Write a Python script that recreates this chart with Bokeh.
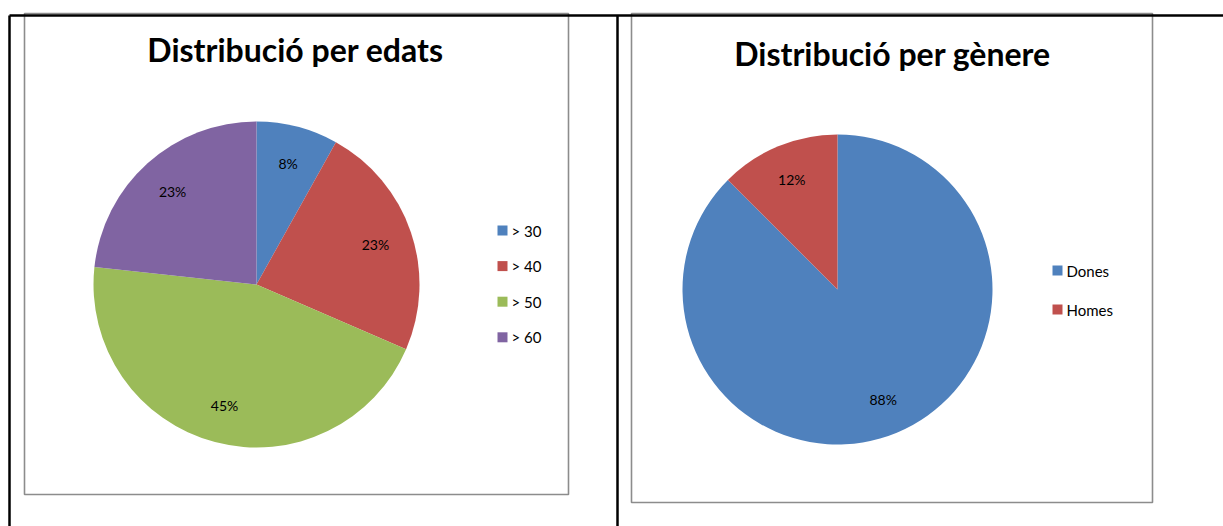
import math
from bokeh.plotting import figure
from bokeh.models import Range1d
from bokeh.core.properties import value
from bokeh.embed import file_html
from bokeh.resources import INLINE

# ---- data ----
age_title = "Distribució per edats"
age_cats = ["> 30", "> 40", "> 50", "> 60"]
age_vals = [8.1, 23.4, 45.2, 23.3]
age_labels = ["8%", "23%", "45%", "23%"]
age_colors = ["#4F81BD", "#C0504D", "#9BBB59", "#8064A2"]

gen_title = "Distribució per gènere"
gen_cats = ["Dones", "Homes"]
gen_vals = [87.5, 12.5]
gen_labels = ["88%", "12%"]
gen_colors = ["#4F81BD", "#C0504D"]

FONT = "Lato"
W, H = 1223, 526
p = figure(width=W, height=H, output_backend="svg", toolbar_location=None,
           x_range=Range1d(0, W), y_range=Range1d(0, H), min_border=0)
p.axis.visible = False
p.grid.visible = False
p.outline_line_color = None
p.background_fill_color = "white"


def Y(sy):
    return H - sy


# chart frames (gray)
p.quad(left=[24, 631], right=[568, 1152], top=[Y(13), Y(13)], bottom=[Y(494), Y(502)],
       fill_color=None, line_color="#8c8c8c", line_width=1.6)

# table lines (black)
p.segment(x0=[9, 9, 617], y0=[Y(15), Y(15), Y(15)], x1=[1223, 9, 617], y1=[Y(15), Y(526), Y(526)],
          line_color="black", line_width=2.5)


def pie(cx, cy, r, vals, labels, colors, cats, title, tx, ty, lx, ly0, dy):
    tot = sum(vals)
    cum = 0.0
    starts, ends, lxs, lys = [], [], [], []
    for v in vals:
        a0 = cum / tot
        cum += v
        a1 = cum / tot
        # Excel: start at 12 o'clock, clockwise
        starts.append(math.pi / 2 - a1 * 2 * math.pi)
        ends.append(math.pi / 2 - a0 * 2 * math.pi)
        mid = (a0 + a1) / 2 * 2 * math.pi
        lxs.append(cx + 0.77 * r * math.sin(mid))
        lys.append(Y(cy) + 0.77 * r * math.cos(mid))
    p.wedge(x=[cx] * len(vals), y=[Y(cy)] * len(vals), radius=r,
            start_angle=starts, end_angle=ends, direction="anticlock",
            fill_color=colors, line_color=None)
    p.text(x=lxs, y=lys, text=labels, text_font=value(FONT), text_font_size="14px",
           text_align="center", text_baseline="middle", text_color="#000000")
    p.text(x=[tx], y=[Y(ty)], text=[title], text_font=value(FONT), text_font_size="32px",
           text_font_style="bold", text_align="center", text_baseline="middle", text_color="#000000")
    ys = [Y(ly0 + i * dy) for i in range(len(cats))]
    p.scatter(x=[lx] * len(cats), y=ys, marker="square", size=10,
              fill_color=colors, line_color=None)
    p.text(x=[lx + 9] * len(cats), y=ys, text=cats, text_font=value(FONT), text_font_size="15px",
           text_align="left", text_baseline="middle", text_color="#000000")


pie(256, 284, 163, age_vals, age_labels, age_colors, age_cats, age_title, 295, 49, 502, 230, 35.6)
pie(837, 289, 155, gen_vals, gen_labels, gen_colors, gen_cats, gen_title, 892, 53, 1057, 270, 39)

open("out.html", "w").write(file_html(p, INLINE))
